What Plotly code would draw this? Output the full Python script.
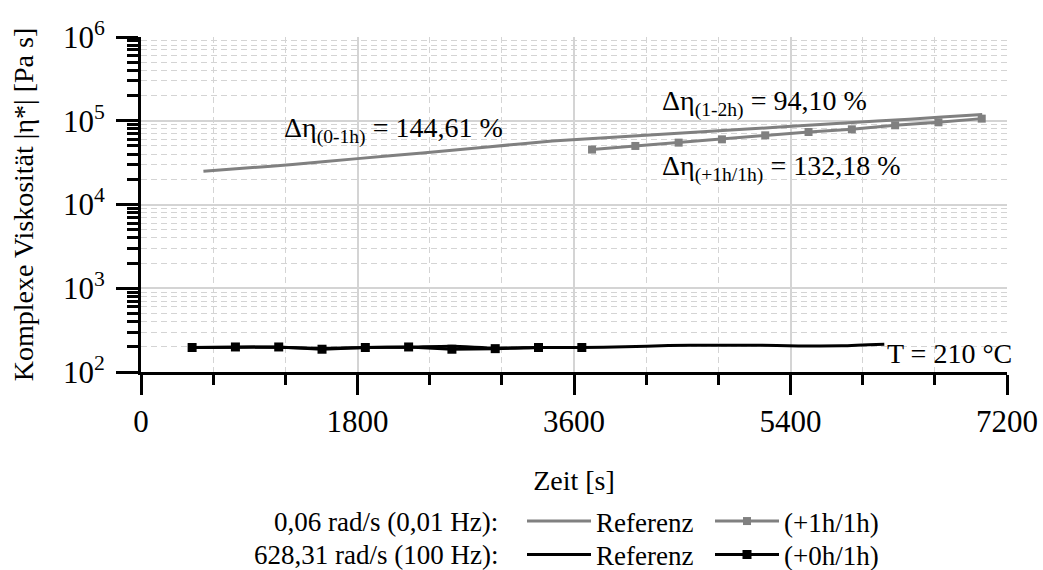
import plotly.graph_objects as go

# ---------------- data ----------------
t_ref_low = [519, 900, 1260, 1800, 2340, 2880, 3420, 3960, 4500, 5040, 5580, 6120, 6660, 6994]
eta_ref_low = [24900, 27400, 30000, 35300, 41300, 48600, 57200, 63800, 71200, 79500, 88700, 99000, 110500, 118400]

t_plus1h = [3750, 4110, 4470, 4830, 5190, 5550, 5910, 6270, 6630, 6990]
eta_plus1h = [45300, 50000, 54800, 60000, 67000, 73400, 79000, 88300, 95800, 106000]

t_ref_high = [425, 785, 1145, 1505, 1865, 2225, 2585, 2945, 3305, 3665, 4025, 4385, 4745, 5105, 5465, 5825, 6180]
eta_ref_high = [196, 198, 198, 192, 196, 198, 203, 193, 196, 196, 200, 207, 209, 209, 205, 206, 215]

t_plus0h = [425, 785, 1145, 1505, 1865, 2225, 2585, 2945, 3305, 3665]
eta_plus0h = [196, 199, 199, 187, 196, 199, 187, 190, 196, 196]

x_ticks = [0, 1800, 3600, 5400, 7200]
y_tickvals = [1e2, 1e3, 1e4, 1e5, 1e6]
y_ticktext = ["10<sup>2</sup>", "10<sup>3</sup>", "10<sup>4</sup>", "10<sup>5</sup>", "10<sup>6</sup>"]

row_labels = ["0,06 rad/s (0,01 Hz):", "628,31 rad/s (100 Hz):"]
names = ["Referenz", "(+1h/1h)", "Referenz", "(+0h/1h)"]

notes = [
    ("Δη<sub>(0-1h)</sub> = 144,61 %", 1172, 4.886),
    ("Δη<sub>(1-2h)</sub> = 94,10 %", 4317, 5.208),
    ("Δη<sub>(+1h/1h)</sub> = 132,18 %", 4317, 4.438),
    ("T = 210 °C", 6188, 2.226),
]

# ---------------- styling ----------------
FONT = "Liberation Serif"
FS = 28
LFS = 27
TFS = 31
GRAY = "#808080"
BLACK = "#000000"
W, H = 1043, 570
L, R, T, B = 141, 36, 37, 198
ROW_Y = [521.5, 555.0]

fig = go.Figure()
fig.add_trace(go.Scatter(x=t_ref_low, y=eta_ref_low, mode="lines", name=names[0],
                         line=dict(color=GRAY, width=3, shape="spline", smoothing=0.6),
                         legend="legend"))
fig.add_trace(go.Scatter(x=t_plus1h, y=eta_plus1h, mode="lines+markers", name=names[1],
                         line=dict(color=GRAY, width=3),
                         marker=dict(symbol="square", size=8, color=GRAY),
                         legend="legend"))
fig.add_trace(go.Scatter(x=t_ref_high, y=eta_ref_high, mode="lines", name=names[2],
                         line=dict(color=BLACK, width=3, shape="spline", smoothing=0.6),
                         legend="legend2"))
fig.add_trace(go.Scatter(x=t_plus0h, y=eta_plus0h, mode="lines+markers", name=names[3],
                         line=dict(color=BLACK, width=3),
                         marker=dict(symbol="square", size=9, color=BLACK),
                         legend="legend2"))

plot_w = W - L - R
plot_h = H - T - B


def px_x(p):
    return (p - L) / plot_w


def px_y(p):
    return (H - B - p) / plot_h


legend_common = dict(orientation="h", xanchor="left", yanchor="middle",
                     font=dict(family=FONT, size=LFS, color="black"),
                     bgcolor="rgba(0,0,0,0)", borderwidth=0,
                     itemwidth=64, entrywidthmode="pixels", entrywidth=109,
                     traceorder="normal", itemclick=False, itemdoubleclick=False)

fig.update_layout(
    width=W, height=H,
    margin=dict(l=L, r=R, t=T, b=B, pad=0, autoexpand=False),
    paper_bgcolor="white", plot_bgcolor="white",
    font=dict(family=FONT, size=FS, color="black"),
    showlegend=True,
    legend=dict(x=px_x(522), y=px_y(ROW_Y[0]), **legend_common),
    legend2=dict(x=px_x(522), y=px_y(ROW_Y[1]), **legend_common),
    xaxis=dict(
        range=[0, 7200], tickvals=x_ticks, tickformat="d",
        showline=True, linecolor="black", linewidth=3,
        ticks="outside", ticklen=20, tickwidth=3, tickcolor="black",
        ticklabelstandoff=0,
        showgrid=True, gridcolor="#d4d4d4", gridwidth=2,
        zeroline=False,
        minor=dict(dtick=600, ticks="outside", ticklen=10, tickwidth=3, tickcolor="black",
                   showgrid=True, gridcolor="#d4d4d4", gridwidth=1, griddash="6px,4px"),
        title=dict(text="Zeit [s]", standoff=33, font=dict(family=FONT, size=FS)),
        tickfont=dict(family=FONT, size=TFS),
    ),
    yaxis=dict(
        type="log", range=[2, 6], tickvals=y_tickvals, ticktext=y_ticktext,
        showline=True, linecolor="black", linewidth=3,
        ticks="outside", ticklen=22, tickwidth=3, tickcolor="black",
        ticklabelstandoff=5,
        showgrid=True, gridcolor="#d4d4d4", gridwidth=2,
        zeroline=False,
        minor=dict(dtick="D1", ticks="outside", ticklen=11, tickwidth=3, tickcolor="black",
                   showgrid=True, gridcolor="#d4d4d4", gridwidth=1, griddash="6px,4px"),
        title=dict(text="Komplexe Viskosität |η*| [Pa s]", standoff=22, font=dict(family=FONT, size=FS)),
        tickfont=dict(family=FONT, size=TFS),
    ),
)

for text, x, y in notes:
    fig.add_annotation(text=text, x=x, y=y, xref="x", yref="y", showarrow=False,
                       xanchor="left", yanchor="middle",
                       font=dict(family=FONT, size=FS, color="black"))

for lbl, py in zip(row_labels, ROW_Y):
    fig.add_annotation(text=lbl, x=px_x(500), y=px_y(py), xref="paper", yref="paper",
                       showarrow=False, xanchor="right", yanchor="middle",
                       font=dict(family=FONT, size=LFS, color="black"))

fig.write_html("out.html", config={"displayModeBar": False},
               post_script="document.body.style.margin='0';document.body.style.padding='0';")
